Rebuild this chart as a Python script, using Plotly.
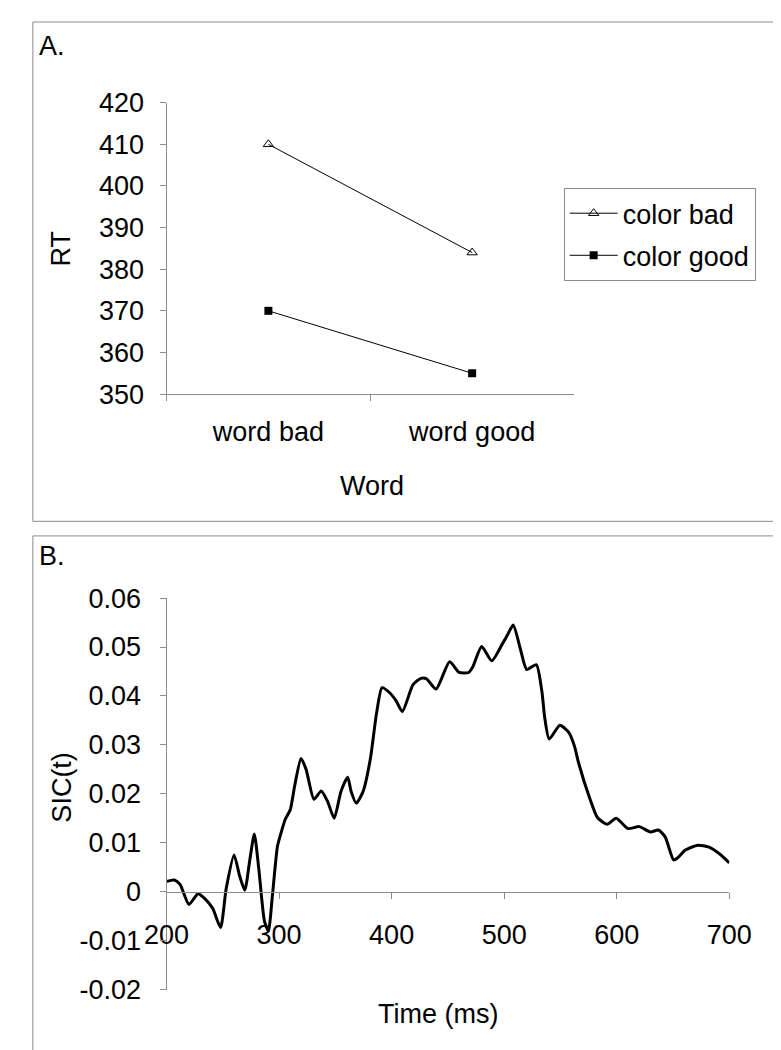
import plotly.graph_objects as go

W, H = 781, 1050

# ---------- Panel A data ----------
words = ["word bad", "word good"]
rt_color_bad = [410, 384]
rt_color_good = [370, 355]
rt_ticks = [350, 360, 370, 380, 390, 400, 410, 420]

# ---------- Panel B data ----------
time_ms = [200, 207, 212, 220, 228, 234, 241, 248, 253, 260, 265, 269.5, 274, 278, 282,
           287, 290.5, 294, 298.5, 301.5, 305.5, 310, 314, 319.5, 324, 331, 337.5, 343,
           349, 355, 361, 364, 368.5, 374.5, 381, 386.5, 391.5, 398.5, 404, 409.5, 419,
           426, 431, 439.5, 451.5, 460, 468.5, 472, 480, 489, 499, 503, 508, 514.5, 520,
           528.5, 533.5, 536, 540, 549.5, 557.5, 562.5, 566, 576, 583, 591.5, 599.5, 610,
           620, 630, 637, 643, 650.5, 654, 661, 672, 682, 691.5, 700]
sic = [0.0021, 0.0024, 0.0015, -0.0026, -0.0004, -0.0014, -0.0034, -0.0073, 0.0006,
       0.0075, 0.0032, 0.0003, 0.0065, 0.0118, 0.0046, -0.0060, -0.0080, -0.0010, 0.0092,
       0.0118, 0.0148, 0.0168, 0.0218, 0.0272, 0.0250, 0.0189, 0.0206, 0.0185, 0.0150,
       0.0205, 0.0234, 0.0205, 0.0181, 0.0204, 0.0270, 0.0363, 0.0417, 0.0406, 0.0390,
       0.0368, 0.0423, 0.0436, 0.0435, 0.0414, 0.0470, 0.0448, 0.0448, 0.0459, 0.0501,
       0.0472, 0.0509, 0.0525, 0.0545, 0.0495, 0.0454, 0.0464, 0.0409, 0.0356, 0.0312,
       0.0340, 0.0325, 0.0297, 0.0264, 0.0191, 0.0151, 0.0138, 0.0150, 0.0129, 0.0133,
       0.0122, 0.0126, 0.0112, 0.0065, 0.0069, 0.0085, 0.0095, 0.0091, 0.0077, 0.0059]
sic_ticks = [-0.02, -0.01, 0, 0.01, 0.02, 0.03, 0.04, 0.05, 0.06]
sic_tick_labels = ["-0.02", "-0.01", "0", "0.01", "0.02", "0.03", "0.04", "0.05", "0.06"]
time_ticks = [200, 300, 400, 500, 600, 700]

# the page body has an 8px default margin; screen coords -> paper coords
OFF = 8


def px(x):
    return (x - OFF) / W


def py(y):
    return 1 - (y - OFF) / H


FONT = "Liberation Sans, Arial, sans-serif"
FS = 27
GRAY = "#8c8c8c"

fig = go.Figure()

fig.add_trace(go.Scatter(
    x=words, y=rt_color_bad, mode="lines+markers", name="color bad", legendgroup="a",
    line=dict(color="black", width=1),
    marker=dict(symbol="triangle-up-open", size=9, color="black", line=dict(width=1, color="black")),
    xaxis="x", yaxis="y"))
fig.add_trace(go.Scatter(
    x=words, y=rt_color_good, mode="lines+markers", name="color good", legendgroup="b",
    line=dict(color="black", width=1),
    marker=dict(symbol="square", size=8, color="black"),
    xaxis="x", yaxis="y"))

fig.add_trace(go.Scatter(
    x=time_ms, y=sic, mode="lines", showlegend=False,
    line=dict(color="black", width=3, shape="spline", smoothing=0.6),
    xaxis="x2", yaxis="y2"))

axis_common = dict(showline=True, linecolor=GRAY, linewidth=1, ticks="outside",
                   tickcolor=GRAY, ticklen=6, showgrid=False, zeroline=False,
                   tickfont=dict(family=FONT, size=FS, color="black"))

fig.update_layout(
    width=W, height=H,
    margin=dict(l=0, r=0, t=0, b=0),
    paper_bgcolor="white", plot_bgcolor="white",
    font=dict(family=FONT, size=FS, color="black"),
    xaxis=dict(domain=[px(152), px(585)], anchor="y", type="category",
               range=[-0.5, 1.5], tickson="boundaries", ticklabelstandoff=14,
               **axis_common),
    yaxis=dict(domain=[py(390), py(90)], anchor="x", range=[350, 420],
               tickvals=rt_ticks, ticklabelstandoff=10, **axis_common),
    xaxis2=dict(domain=[px(152), px(750)], anchor="free", position=py(903),
                range=[200, 700], tickvals=time_ticks, ticklabelstandoff=12,
                **axis_common),
    yaxis2=dict(domain=[py(1003), py(600)], anchor="x2", range=[-0.02, 0.06],
                tickvals=sic_ticks, ticktext=sic_tick_labels, ticklabelstandoff=13,
                **axis_common),
    legend=dict(x=px(574), y=py(178), xanchor="left", yanchor="top",
                bordercolor=GRAY, borderwidth=1, bgcolor="white",
                font=dict(family=FONT, size=FS, color="black"),
                traceorder="grouped", tracegroupgap=4, itemwidth=48),
    showlegend=True,
)

shapes = [
    dict(type="rect", xref="paper", yref="paper", x0=px(10), x1=px(820), y0=py(521), y1=py(7),
         line=dict(color=GRAY, width=1)),
    dict(type="rect", xref="paper", yref="paper", x0=px(10), x1=px(820), y0=py(1080), y1=py(536),
         line=dict(color=GRAY, width=1)),
]
fig.update_layout(shapes=shapes)

ann = [
    dict(text="A.", x=px(14), y=py(32), xanchor="left", yanchor="middle"),
    dict(text="B.", x=px(14), y=py(557), xanchor="left", yanchor="middle"),
    dict(text="RT", x=px(40), y=py(240), textangle=-90, xanchor="center", yanchor="middle"),
    dict(text="Word", x=px(370), y=py(485), xanchor="center", yanchor="middle"),
    dict(text="SIC(t)", x=px(40), y=py(795), textangle=-90, xanchor="center", yanchor="middle"),
    dict(text="Time (ms)", x=px(440), y=py(1028), xanchor="center", yanchor="middle"),
]
for a in ann:
    a.update(xref="paper", yref="paper", showarrow=False,
             font=dict(family=FONT, size=FS, color="black"))
fig.update_layout(annotations=ann)

fig.write_html("out.html")
